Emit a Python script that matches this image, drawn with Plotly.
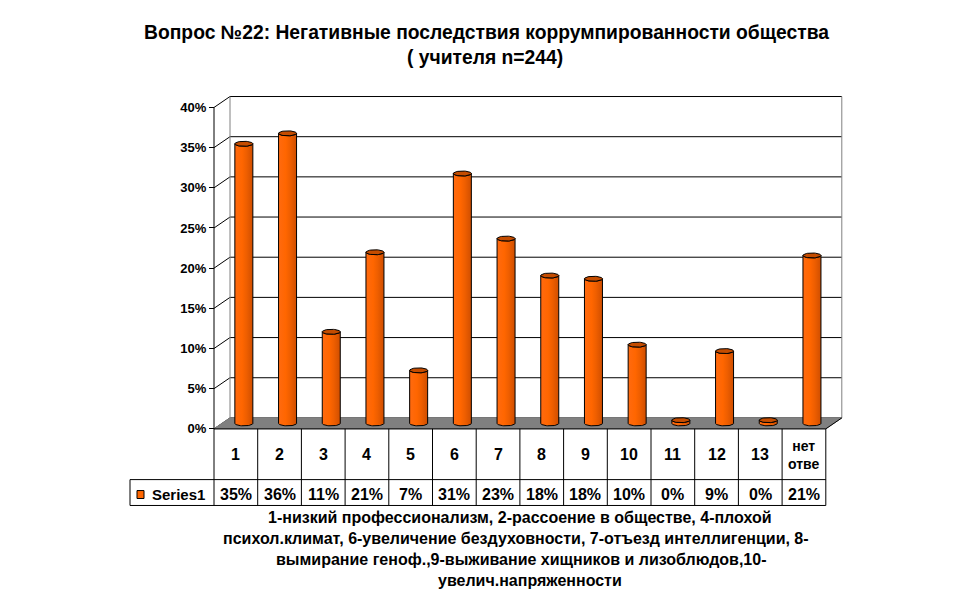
import numpy as np
import plotly.graph_objects as go

# ---------------- data ----------------
categories = ["1", "2", "3", "4", "5", "6", "7", "8", "9", "10", "11", "12", "13", "нет<br>отве"]
values = [34.8, 36.1, 11.4, 21.3, 6.6, 31.1, 23.0, 18.4, 18.0, 9.8, 0.4, 9.0, 0.4, 20.9]
table_labels = ["35%", "36%", "11%", "21%", "7%", "31%", "23%", "18%", "18%", "10%", "0%", "9%", "0%", "21%"]
y_ticks = [0, 5, 10, 15, 20, 25, 30, 35, 40]
y_tick_labels = ["0%", "5%", "10%", "15%", "20%", "25%", "30%", "35%", "40%"]
series_name = "Series1"
title_lines = ["Вопрос №22: Негативные последствия коррумпированности общества",
               "( учителя n=244)"]
note_lines = ["1-низкий профессионализм, 2-рассоение в обществе, 4-плохой",
              "психол.климат, 6-увеличение бездуховности, 7-отъезд интеллигенции, 8-",
              "вымирание геноф.,9-выживание хищников и лизоблюдов,10-",
              "увелич.напряженности"]

# ---------------- geometry ----------------
W, H = 970, 604
FONT = "Liberation Sans"
X0 = 214.0        # px of left edge of front plane
COL = 43.7        # px per category
Y0 = 431.0        # px of 0% on front plane
YS = 8.075        # px per 1%
DXP, DYP = 16.0, 11.0   # depth offset in px
n = len(categories)
dx = DXP / COL
dy = DYP / YS
ymax_val = y_ticks[-1]

def px_x(x):
    return X0 + (x + 0.5) * COL

def px_y(y):
    return Y0 - y * YS

xmin, xmax = -0.5 - 0.15, n - 0.5 + dx + 0.15
ymin, ymax = -0.6, ymax_val + dy + 0.6

ORANGE_TOP = "#C44C00"
GRAD = [[0, "#FF6A10"], [0.4, "#FF6600"], [0.65, "#EE5E00"], [1, "#CF4E00"]]

fig = go.Figure()

# back wall gridlines with left-wall diagonals
gx, gy = [], []
for t in y_ticks:
    gx += [-0.5, -0.5 + dx, n - 0.5 + dx, None]
    gy += [t, t + dy, t + dy, None]
fig.add_trace(go.Scatter(x=gx, y=gy, mode="lines", line=dict(color="black", width=1),
                         hoverinfo="skip", showlegend=False))
# back wall vertical edges (gray)
fig.add_trace(go.Scatter(x=[-0.5 + dx, -0.5 + dx, None, n - 0.5 + dx, n - 0.5 + dx],
                         y=[dy, ymax_val + dy, None, dy, ymax_val + dy],
                         mode="lines", line=dict(color="#808080", width=1),
                         hoverinfo="skip", showlegend=False))
# floor
fig.add_trace(go.Scatter(x=[-0.5, n - 0.5, n - 0.5 + dx, -0.5 + dx, -0.5],
                         y=[0, 0, dy, dy, 0], mode="lines", fill="toself",
                         fillcolor="#808080", line=dict(color="#808080", width=1),
                         hoverinfo="skip", showlegend=False))
fig.add_trace(go.Scatter(x=[-0.5, n - 0.5, n - 0.5 + dx], y=[0, 0, dy], mode="lines",
                         line=dict(color="black", width=1), hoverinfo="skip", showlegend=False))
# y axis line (front)
fig.add_trace(go.Scatter(x=[-0.5, -0.5], y=[0, ymax_val], mode="lines",
                         line=dict(color="black", width=1), hoverinfo="skip", showlegend=False))

# cylinders
r = 9.0 / COL
ry = 2.5 / YS
base = dy / 2
for i, v in enumerate(values):
    cx = i + dx / 2
    top = base + v
    t1 = np.linspace(np.pi, 2 * np.pi, 25)
    t2 = np.linspace(2 * np.pi, np.pi, 25)
    bx = list(cx + r * np.cos(t1)) + list(cx + r * np.cos(t2)) + [cx - r]
    by = list(base + ry * np.sin(t1)) + list(top + ry * np.sin(t2)) + [base]
    fig.add_trace(go.Scatter(x=bx, y=by, mode="lines", fill="toself",
                             fillgradient=dict(type="horizontal", colorscale=GRAD),
                             line=dict(color="black", width=1),
                             hoverinfo="skip", showlegend=False))
    tt = np.linspace(0, 2 * np.pi, 49)
    fig.add_trace(go.Scatter(x=cx + r * np.cos(tt), y=top + ry * np.sin(tt), mode="lines",
                             fill="toself", fillcolor=ORANGE_TOP,
                             line=dict(color="black", width=1),
                             hoverinfo="skip", showlegend=False))

# ---------------- table ----------------
shapes = []
ROW1_TOP, ROW2_TOP, ROW2_BOT = Y0, 482.0, 508.0
LEG_L = 130.0
def line(x0, y0, x1, y1, color="black"):
    shapes.append(dict(type="line", xref="paper", yref="paper",
                       x0=x0 / W, x1=x1 / W, y0=1 - y0 / H, y1=1 - y1 / H,
                       line=dict(color=color, width=1)))
right = px_x(n - 0.5)
line(LEG_L, ROW2_TOP, right, ROW2_TOP)
line(LEG_L, ROW2_BOT, right, ROW2_BOT)
line(LEG_L, ROW2_TOP, LEG_L, ROW2_BOT)
for k in range(n + 1):
    xp = px_x(k - 0.5)
    line(xp, ROW1_TOP, xp, ROW2_BOT)
# legend key
shapes.append(dict(type="rect", xref="paper", yref="paper",
                   x0=137 / W, x1=144 / W, y0=1 - 501 / H, y1=1 - 493 / H,
                   fillcolor="#FF6600", line=dict(color="black", width=1)))

annotations = []
for i, c in enumerate(categories):
    annotations.append(dict(x=px_x(i) / W, y=1 - 457 / H, xref="paper", yref="paper",
                            text=f"<b>{c}</b>", showarrow=False, xanchor="center",
                            yanchor="middle", font=dict(family=FONT, size=16 if "<br>" not in c else 14,
                                                        color="black")))
    annotations.append(dict(x=px_x(i) / W, y=1 - 496.5 / H, xref="paper", yref="paper",
                            text=f"<b>{table_labels[i]}</b>", showarrow=False, xanchor="center",
                            yanchor="middle", font=dict(family=FONT, size=16, color="black")))
annotations.append(dict(x=150 / W, y=1 - 496.5 / H, xref="paper", yref="paper",
                        text=f"<b>{series_name}</b>", showarrow=False, xanchor="left",
                        yanchor="middle", font=dict(family=FONT, size=15, color="black")))
# title
for j, (t, cxp, cyp) in enumerate(zip(title_lines, [486, 485], [33, 58])):
    annotations.append(dict(x=cxp / W, y=1 - cyp / H, xref="paper", yref="paper",
                            text=f"<b>{t}</b>", showarrow=False, xanchor="center",
                            yanchor="middle", font=dict(family=FONT, size=19.3, color="black")))
# footnote
for t, cxp, cyp in zip(note_lines, [520, 516, 521, 530], [520, 541, 562, 583]):
    annotations.append(dict(x=cxp / W, y=1 - cyp / H, xref="paper", yref="paper",
                            text=f"<b>{t}</b>", showarrow=False, xanchor="center",
                            yanchor="middle", font=dict(family=FONT, size=16, color="black")))

fig.update_layout(
    width=W, height=H, autosize=False,
    margin=dict(l=0, r=0, t=0, b=0),
    paper_bgcolor="white", plot_bgcolor="rgba(0,0,0,0)",
    showlegend=False, hovermode=False,
    shapes=shapes, annotations=annotations,
    xaxis=dict(range=[xmin, xmax], domain=[px_x(xmin) / W, px_x(xmax) / W],
               showgrid=False, zeroline=False, showline=False, showticklabels=False,
               ticks="", fixedrange=True),
    yaxis=dict(range=[ymin, ymax], domain=[1 - px_y(ymin) / H, 1 - px_y(ymax) / H],
               anchor="free", position=px_x(-0.5) / W,
               tickvals=y_ticks, ticktext=[f"<b>{s}</b>" for s in y_tick_labels],
               ticks="outside", ticklen=5, tickcolor="black", tickwidth=1,
               tickfont=dict(family=FONT, size=13, color="black"),
               showgrid=False, zeroline=False, showline=False, fixedrange=True),
)

fig.write_html("out.html", config={"displayModeBar": False, "staticPlot": True},
               post_script="document.body.style.margin='0px';document.body.style.overflow='hidden';")
